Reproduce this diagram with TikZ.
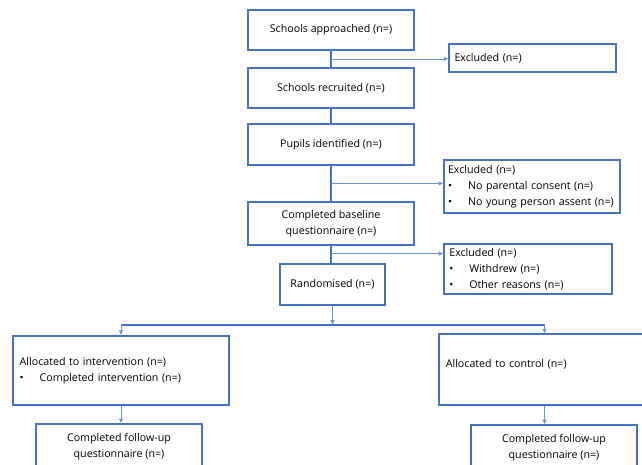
\documentclass[tikz,border=0pt]{standalone}
\usepackage{fontspec}
\setmainfont{Open Sans}
\usetikzlibrary{arrows.meta,calc}
\definecolor{boxblue}{HTML}{4472C4}
\definecolor{lineblue}{HTML}{6A93D6}
\newcommand{\bul}{\makebox[15pt][l]{\textbullet}}

\begin{document}
\begin{tikzpicture}[x=0.75pt,y=-0.75pt,>={Latex[length=3.5pt,width=3.5pt]},
  box/.style={draw=boxblue,line width=1.1pt,align=center,inner sep=2pt,
    font=\fontsize{8}{12}\selectfont},
  sidebox/.style={box,align=left,inner xsep=4pt},
  spine/.style={draw=boxblue,line width=1.1pt},
  branch/.style={draw=lineblue,line width=0.6pt,->}]
 \useasboundingbox (0,0) rectangle (642,464);
 % main column
 \node[box,minimum width=124.5pt,minimum height=30pt] (approached) at (331,30) {Schools approached (n=)};
 \node[box,minimum width=124.5pt,minimum height=30pt] (recruited) at (331,88) {Schools recruited (n=)};
 \node[box,minimum width=124.5pt,minimum height=30.5pt] (pupils) at (331,144.5) {Pupils identified (n=)};
 \node[box,minimum width=124.5pt,minimum height=32pt] (baseline) at (331,223.5) {Completed baseline\\questionnaire (n=)};
 \node[box,minimum width=79pt,minimum height=31pt] (random) at (332.5,284.5) {Randomised (n=)};
 % exclusions
 \node[sidebox,minimum width=125pt,minimum height=21pt,text width=117pt] (excl1) at (532.5,58) {Excluded (n=)};
 \node[sidebox,inner xsep=3pt,minimum width=130.5pt,minimum height=40pt,text width=126pt] (excl2) at (532,186.5)
  {Excluded (n=)\\\bul No parental consent (n=)\\\bul No young person assent (n=)};
 \node[sidebox,minimum width=126pt,minimum height=37.5pt,text width=118pt] (excl3) at (528,269)
  {Excluded (n=)\\\bul Withdrew (n=)\\\bul Other reasons (n=)};
 % arms
 \node[sidebox,minimum width=162pt,minimum height=52pt,text width=152pt] (interv) at (121,370.5)
  {Allocated to intervention (n=)\\\bul Completed intervention (n=)};
 \node[sidebox,minimum width=158pt,minimum height=53pt,text width=148pt] (control) at (544.5,369.5)
  {Allocated to control (n=)\\[-3pt]\mbox{}};
 \node[box,minimum width=124.5pt,minimum height=34.5pt] (followA) at (119,447) {Completed follow-up\\questionnaire (n=)};
 \node[box,minimum width=124.5pt,minimum height=34.5pt] (followB) at (554,448) {Completed follow-up\\questionnaire (n=)};
 % connectors
 \draw[spine] (approached) -- (recruited);
 \draw[spine] (recruited) -- (pupils);
 \draw[spine] (pupils) -- (baseline);
 \draw[spine] (baseline.south) -- (baseline.south |- random.north);
 \coordinate (b1) at ($(approached.south)!0.5!(recruited.north)$);
 \coordinate (b2) at ($(pupils.south)!0.5!(baseline.north)$);
 \coordinate (b3) at ($(baseline.south)+(0,8)$);
 \draw[branch] (b1) -- (b1 -| excl1.west);
 \draw[branch] (b2) -- (b2 -| excl2.west);
 \draw[branch] (b3) -- (b3 -| excl3.west);
 \coordinate (split) at ($(random.south)+(0,19)$);
 \draw[branch] (random.south) -- (split);
 \draw[draw=boxblue,line width=0.9pt] (split -| interv.north) -- (split -| control.north);
 \draw[branch] (split -| interv.north) -- (interv.north);
 \draw[branch] (split -| control.north) -- (control.north);
 \draw[branch] (interv.south) -- (interv.south |- followA.north);
 \draw[branch] (control.south) -- (control.south |- followB.north);
\end{tikzpicture}
\end{document}
